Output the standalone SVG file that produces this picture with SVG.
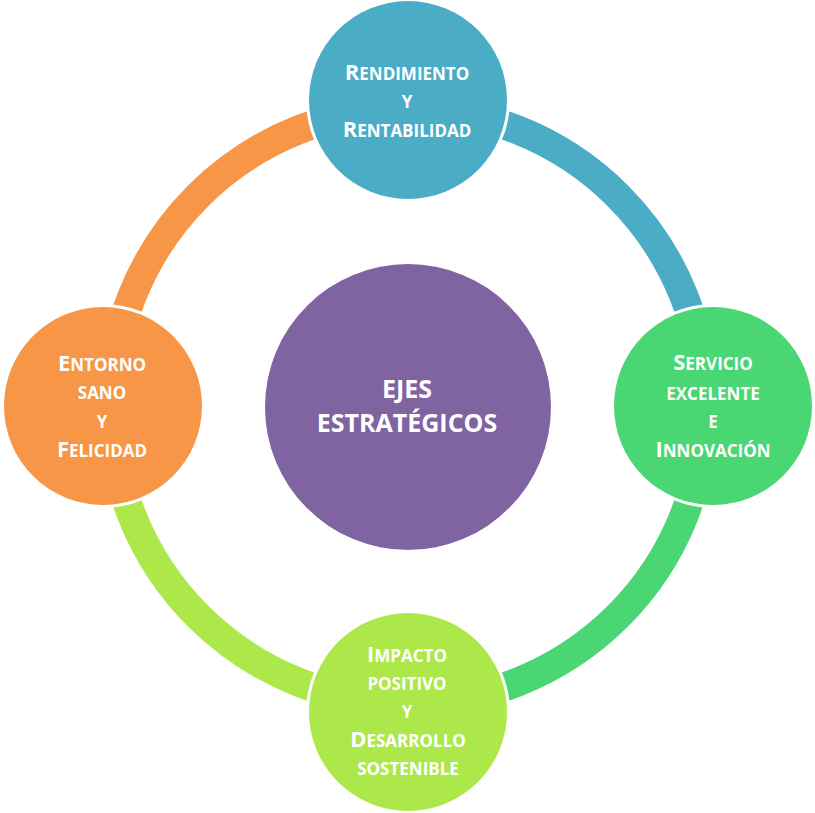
<svg xmlns="http://www.w3.org/2000/svg" width="815" height="813" viewBox="0 0 815 813">
<style>
.arc{fill:none;stroke-width:29;stroke-linecap:butt}
.halo{fill:#ffffff}
.t{font-family:"Open Sans","Noto Sans","Liberation Sans",sans-serif;font-weight:700;fill:#ffffff;text-anchor:middle;text-transform:uppercase}
.b{font-size:22px}
.s{font-size:17px}
.c{font-size:25px}
</style>
<rect width="815" height="813" fill="#ffffff"/>
<g id="connectors">
<path class="arc" stroke="#4BACC6" d="M408,109 A297,297 0 0 1 705,406"/>
<path class="arc" stroke="#49D673" d="M705,406 A297,297 0 0 1 408,703"/>
<path class="arc" stroke="#ACE84A" d="M408,703 A297,297 0 0 1 111,406"/>
<path class="arc" stroke="#F79646" d="M111,406 A297,297 0 0 1 408,109"/>
</g>
<g id="center">
<circle cx="408" cy="407" r="143" fill="#8064A2"/>
<text class="t c" x="407" y="398">EJES</text>
<text class="t c" x="407" y="432">ESTRATÉGICOS</text>
</g>
<g id="rendimiento">
<circle class="halo" cx="408" cy="100" r="102"/>
<circle cx="408" cy="100" r="99" fill="#4BACC6"/>
<text class="t" x="407" y="80"><tspan class="b">R</tspan><tspan class="s">endimiento</tspan></text>
<text class="t s" x="407" y="108">y</text>
<text class="t" x="407" y="137"><tspan class="b">R</tspan><tspan class="s">entabilidad</tspan></text>
</g>
<g id="servicio">
<circle class="halo" cx="713" cy="406" r="102"/>
<circle cx="713" cy="406" r="99" fill="#49D673"/>
<text class="t" x="713" y="370"><tspan class="b">S</tspan><tspan class="s">ervicio</tspan></text>
<text class="t s" x="713" y="400">excelente</text>
<text class="t s" x="713" y="428">e</text>
<text class="t" x="713" y="457"><tspan class="b">I</tspan><tspan class="s">nnovación</tspan></text>
</g>
<g id="impacto">
<circle class="halo" cx="408" cy="712" r="102"/>
<circle cx="408" cy="712" r="99" fill="#ACE84A"/>
<text class="t" x="407" y="662"><tspan class="b">I</tspan><tspan class="s">mpacto</tspan></text>
<text class="t s" x="407" y="690">positivo</text>
<text class="t s" x="407" y="718">y</text>
<text class="t" x="408" y="747"><tspan class="b">D</tspan><tspan class="s">esarrollo</tspan></text>
<text class="t s" x="408" y="775">sostenible</text>
</g>
<g id="entorno">
<circle class="halo" cx="103" cy="406" r="102"/>
<circle cx="103" cy="406" r="99" fill="#F79646"/>
<text class="t" x="102" y="371"><tspan class="b">E</tspan><tspan class="s">ntorno</tspan></text>
<text class="t s" x="102" y="399">sano</text>
<text class="t s" x="102" y="428">y</text>
<text class="t" x="102" y="457"><tspan class="b">F</tspan><tspan class="s">elicidad</tspan></text>
</g>
</svg>
